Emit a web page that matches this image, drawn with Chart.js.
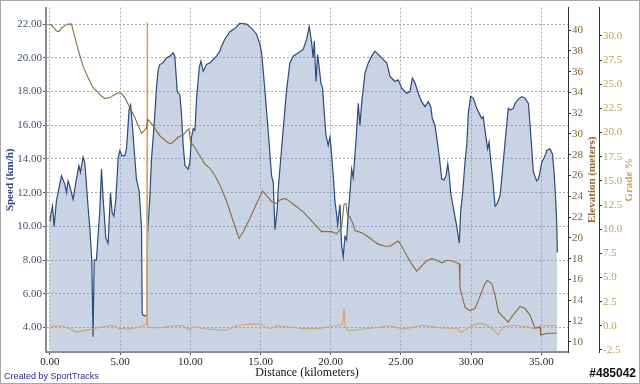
<!DOCTYPE html>
<html>
<head>
<meta charset="utf-8">
<script src="https://cdn.jsdelivr.net/npm/chart.js@4/dist/chart.umd.min.js"></script>
<style>
html,body{margin:0;padding:0;background:#fff;}
#wrap{width:640px;height:384px;position:relative;}
</style>
</head>
<body>
<div id="wrap"><canvas id="c" width="640" height="384"></canvas></div>
<script>
// ---- Data ----
const speedKm = [0.00,0.12,0.19,0.31,0.47,0.59,0.83,1.07,1.19,1.30,1.42,1.66,1.85,2.07,2.18,2.37,2.49,2.73,2.85,2.99,3.08,3.16,3.32,3.44,3.56,3.68,3.80,3.99,4.15,4.32,4.44,4.56,4.70,4.87,4.99,5.13,5.34,5.46,5.65,5.75,5.86,6.01,6.17,6.36,6.53,6.58,6.70,6.89,6.96,7.12,7.24,7.41,7.60,7.72,7.83,8.07,8.31,8.55,8.78,8.90,9.07,9.26,9.38,9.49,9.62,9.85,9.97,10.09,10.21,10.33,10.45,10.64,10.76,10.92,11.16,11.40,11.63,11.87,12.11,12.23,12.46,12.82,13.18,13.53,14.01,14.37,14.72,14.96,15.08,15.31,15.55,15.79,15.91,16.03,16.19,16.26,16.38,16.62,16.86,17.09,17.33,17.69,18.04,18.28,18.47,18.64,18.75,18.83,18.95,19.07,19.18,19.30,19.42,19.52,19.66,19.82,19.94,20.01,20.18,20.30,20.42,20.49,20.66,20.77,20.89,21.01,21.13,21.25,21.37,21.49,21.60,21.72,21.84,21.96,22.08,22.20,22.44,22.67,22.91,23.15,23.50,23.98,24.22,24.57,24.81,25.05,25.41,25.64,25.81,26.00,26.23,26.47,26.71,26.95,27.12,27.23,27.42,27.59,27.73,27.90,28.06,28.21,28.33,28.44,28.54,28.73,28.97,29.15,29.25,29.39,29.56,29.68,29.80,29.96,30.15,30.39,30.63,30.75,30.86,30.98,31.10,31.17,31.27,31.39,31.53,31.70,31.82,32.05,32.17,32.41,32.64,32.81,33.00,33.12,33.36,33.60,33.83,34.07,34.19,34.31,34.42,34.66,34.78,34.90,35.02,35.26,35.38,35.61,35.78,35.90,36.02,36.09,36.13];
const speedKmh = [10.3,10.9,11.2,10.0,11.5,12.0,13.0,12.5,12.0,12.7,12.4,11.6,12.6,13.6,13.2,14.1,13.8,11.1,9.9,7.95,3.45,8.0,8.0,9.5,10.9,13.4,11.6,9.3,9.0,12.0,10.8,10.6,11.6,14.1,14.5,14.2,14.2,14.6,16.95,17.2,16.2,14.5,12.8,12.1,9.9,4.8,4.7,4.7,9.5,11.7,14.0,15.8,18.3,19.3,19.6,19.7,20.0,20.1,20.3,20.1,18.0,17.8,16.6,14.9,13.6,13.4,13.8,15.3,15.8,15.7,17.6,19.4,19.8,19.2,19.6,19.7,19.9,20.1,20.4,20.7,21.1,21.55,21.75,22.05,22.0,21.75,21.4,20.8,20.3,18.1,15.6,13.0,12.6,9.8,11.0,12.2,13.4,15.8,18.1,19.7,20.1,20.3,20.5,21.1,21.85,20.9,20.0,21.0,18.6,20.2,19.4,18.5,18.2,16.95,15.4,14.8,15.3,14.8,13.0,11.5,10.7,10.1,11.3,8.9,8.2,9.4,9.2,10.9,12.0,13.4,12.9,14.2,15.6,17.3,16.0,17.3,19.1,19.7,20.1,20.4,20.1,19.7,18.9,18.6,18.7,18.2,17.9,18.0,18.8,18.5,17.9,17.4,17.1,17.4,17.1,16.4,16.0,15.0,14.1,12.8,12.75,13.0,13.7,13.0,11.95,11.1,10.0,9.0,10.9,12.0,13.8,14.8,16.75,17.7,17.6,17.0,16.6,16.4,16.5,15.7,15.0,14.6,15.0,13.9,12.8,11.2,11.3,11.8,12.8,15.0,17.0,16.9,17.0,17.3,17.55,17.7,17.6,17.3,16.0,14.6,13.25,12.7,12.8,13.25,13.8,14.2,14.5,14.6,14.3,13.2,11.5,10.1,8.45];

const elevKm = [0.00,0.24,0.47,0.66,0.83,1.07,1.30,1.54,1.71,2.02,2.37,2.73,3.08,3.44,3.68,3.92,4.27,4.63,4.87,5.10,5.34,5.58,5.82,6.05,6.29,6.53,6.70,6.89,6.96,7.12,7.36,7.60,7.83,8.19,8.55,8.78,9.14,9.49,9.74,9.90,10.02,10.33,10.68,11.04,11.40,11.75,12.11,12.59,13.06,13.48,13.77,14.25,14.72,15.15,15.43,15.79,16.15,16.38,16.74,17.09,17.57,18.04,18.52,19.00,19.35,19.71,20.06,20.42,20.77,20.94,21.08,21.18,21.37,21.60,21.72,22.20,22.56,22.91,23.38,23.86,24.22,24.57,24.81,25.05,25.41,25.76,26.12,26.47,26.83,27.19,27.54,27.90,28.26,28.61,28.97,29.15,29.20,29.56,29.91,30.27,30.63,30.98,31.15,31.46,31.70,31.93,32.17,32.64,32.88,33.48,33.83,34.19,34.54,34.90,34.95,35.38,36.09];
const elevM = [40.57,40.3,39.9,39.85,40.2,40.4,40.57,40.57,39.7,38.1,36.5,35.4,34.45,34.0,33.65,33.4,33.5,33.8,33.97,33.9,33.5,32.86,32.2,31.6,30.8,30.07,30.3,30.6,31.4,31.2,30.8,30.3,29.85,29.4,29.05,29.2,29.7,29.9,30.3,30.5,29.2,28.7,27.9,27.1,26.7,26.0,25.1,23.5,21.6,19.94,20.6,21.9,23.3,24.5,24.1,23.5,23.3,23.65,23.8,23.5,23.0,22.5,21.8,21.1,20.6,20.6,20.6,20.4,21.0,23.2,23.3,22.3,22.0,21.3,20.7,20.5,20.2,19.85,19.4,19.2,19.2,19.5,19.7,19.2,18.3,17.5,16.8,17.3,17.8,18.0,17.85,17.6,17.85,17.8,17.6,17.5,15.2,13.3,13.0,13.2,14.4,15.6,15.9,15.6,14.5,12.9,12.55,11.9,12.4,13.4,13.2,12.55,11.3,11.4,10.65,10.8,10.85];

const gradeKm = [0.00,0.71,1.42,1.90,2.61,3.08,3.80,4.39,4.99,5.70,6.41,6.77,6.89,6.93,6.96,7.12,7.83,8.78,9.49,9.97,10.21,11.16,12.59,13.30,14.01,14.96,15.67,16.15,16.86,18.04,19.00,19.94,20.66,20.85,20.94,21.03,21.25,22.56,24.22,25.16,26.59,27.78,29.08,29.25,29.91,30.63,31.34,31.93,32.29,33.00,33.95,34.42,34.90,36.09];
const gradePct = [-0.1,0.0,-0.3,-0.65,-0.45,-0.3,-0.1,0.05,-0.3,-0.35,-0.1,0.1,0.2,31.4,-0.1,-0.2,-0.2,0.0,0.0,-0.45,-0.1,-0.35,-0.45,0.0,0.15,0.2,-0.3,0.0,-0.1,-0.3,-0.3,-0.1,0.1,0.2,1.8,-0.1,-0.5,-0.3,0.0,-0.35,0.05,-0.2,-0.3,-0.7,-0.1,0.3,-0.1,-0.95,-0.1,0.05,-0.1,-0.3,0.0,0.0];

const distTicks = [0,5,10,15,20,25,30,35];
const speedTicks = [4,6,8,10,12,14,16,18,20,22];
const elevTicks = [10,12,14,16,18,20,22,24,26,28,30,32,34,36,38,40];
const gradeTicks = [-2.5,0,2.5,5,7.5,10,12.5,15,17.5,20,22.5,25,27.5,30];

const xTitle = 'Distance (kilometers)';
const speedTitle = 'Speed (km/h)';
const elevTitle = 'Elevation (meters)';
const gradeTitle = 'Grade %';
const footerLeft = 'Created by SportTracks';
const footerRight = '#485042';

// ---- Build chart ----
const serif = "'Liberation Serif', 'Times New Roman', serif";
const zip = (xs, ys) => xs.map((x, i) => ({x: x, y: ys[i]}));
const gridColor = '#a2a8b4';

const extras = {
  id: 'extras',
  afterDraw(chart) {
    const ctx = chart.ctx;
    const ca = chart.chartArea;
    const cy = (ca.top + ca.bottom) / 2;
    ctx.save();
    // frame
    ctx.strokeStyle = '#a8a8a8';
    ctx.lineWidth = 1;
    ctx.strokeRect(0.5, 0.5, 639, 383);
    // right axis titles (reading bottom to top)
    ctx.font = "bold 11px " + serif;
    ctx.textAlign = 'center';
    ctx.textBaseline = 'middle';
    ctx.save();
    ctx.translate(592, cy);
    ctx.rotate(-Math.PI / 2);
    ctx.fillStyle = '#8c6d36';
    ctx.fillText(elevTitle, 0, 0);
    ctx.restore();
    ctx.save();
    ctx.translate(629, cy);
    ctx.rotate(-Math.PI / 2);
    ctx.fillStyle = '#c6a25a';
    ctx.fillText(gradeTitle, 0, 0);
    ctx.restore();
    // footer
    ctx.textAlign = 'left';
    ctx.font = "9px 'Liberation Sans', Arial, sans-serif";
    ctx.fillStyle = '#2b2b90';
    ctx.fillText(footerLeft, 4, 377);
    ctx.textAlign = 'right';
    ctx.font = "bold 12px 'Liberation Sans', Arial, sans-serif";
    ctx.lineWidth = 2;
    ctx.strokeStyle = '#ffffff';
    ctx.strokeText(footerRight, 636, 374);
    ctx.fillStyle = '#111111';
    ctx.fillText(footerRight, 636, 374);
    ctx.restore();
  }
};

new Chart(document.getElementById('c'), {
  type: 'line',
  data: {
    datasets: [
      {
        label: 'Speed', data: zip(speedKm, speedKmh), yAxisID: 'ySpeed', order: 3,
        borderColor: '#2c4a7c', borderWidth: 1.2, backgroundColor: 'rgba(140,160,196,0.46)',
        fill: 'start', pointRadius: 0, tension: 0
      },
      {
        label: 'Elevation', data: zip(elevKm, elevM), yAxisID: 'yElev', order: 1,
        borderColor: '#8a6b3c', borderWidth: 1.1, fill: false, pointRadius: 0, tension: 0
      },
      {
        label: 'Grade', data: zip(gradeKm, gradePct), yAxisID: 'yGrade', order: 2,
        borderColor: '#cfa868', borderWidth: 1.1, fill: false, pointRadius: 0, tension: 0
      }
    ]
  },
  options: {
    responsive: false,
    animation: false,
    devicePixelRatio: 1,
    layout: { padding: { top: 4, left: 0, right: 0, bottom: 0 } },
    plugins: { legend: { display: false }, tooltip: { enabled: false } },
    scales: {
      x: {
        type: 'linear', position: 'bottom', min: -0.27, max: 36.89,
        afterBuildTicks: s => { s.ticks = distTicks.map(v => ({value: v})); },
        afterFit: s => { s.height = 32; },
        ticks: { callback: v => Number(v).toFixed(2), font: {family: serif, size: 11}, color: '#222222', padding: 1, maxRotation: 0, autoSkip: false },
        grid: { color: gridColor, lineWidth: 1, tickLength: 3, tickColor: '#555555' },
        border: { color: '#8c8c8c', width: 2, dash: [2, 2] },
        title: { display: true, text: xTitle, font: {family: serif, size: 12}, color: '#111111', padding: {top: 0, bottom: 4} }
      },
      ySpeed: {
        type: 'linear', position: 'left', min: 2.546, max: 22.98,
        afterBuildTicks: s => { s.ticks = speedTicks.map(v => ({value: v})); },
        afterFit: s => { s.width = 46; },
        ticks: { callback: v => Number(v).toFixed(2), font: {family: serif, size: 11}, color: '#3b4f74', padding: 1, autoSkip: false },
        grid: { color: gridColor, lineWidth: 1, tickLength: 3, tickColor: '#555555' },
        border: { color: '#8c8c8c', width: 2, dash: [2, 2] },
        title: { display: true, text: speedTitle, font: {family: serif, size: 11, weight: 'bold'}, color: '#2f4a7a', padding: {top: 4, bottom: 0} }
      },
      yElev: {
        type: 'linear', position: 'right', weight: 1, min: 9.02, max: 42.16,
        afterBuildTicks: s => { s.ticks = elevTicks.map(v => ({value: v})); },
        afterFit: s => { s.width = 31; },
        ticks: { callback: v => String(v), font: {family: serif, size: 11}, color: '#7d6132', padding: 1, autoSkip: false },
        grid: { drawOnChartArea: false, tickLength: 3, tickColor: '#333333' },
        border: { color: '#333333', width: 1 }
      },
      yGrade: {
        type: 'linear', position: 'right', weight: 2, min: -2.715, max: 32.94,
        afterBuildTicks: s => { s.ticks = gradeTicks.map(v => ({value: v})); },
        afterFit: s => { s.width = 41; },
        ticks: { callback: v => Number(v).toFixed(1), font: {family: serif, size: 11}, color: '#c39f58', padding: 1, autoSkip: false },
        grid: { drawOnChartArea: false, tickLength: 3, tickColor: '#333333' },
        border: { color: '#333333', width: 1 }
      }
    }
  },
  plugins: [extras]
});
</script>
</body>
</html>
